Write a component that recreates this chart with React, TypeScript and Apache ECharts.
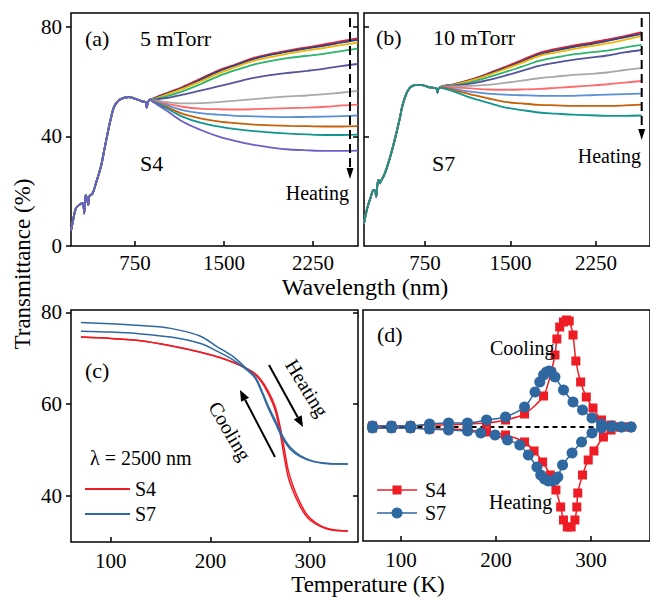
import React, { useEffect, useRef } from "react";
import * as echarts from "echarts";

const FONT = "Liberation Serif, Times New Roman, serif";

// ---------- (a) S4, 5 mTorr : transmittance spectra ----------
// short-wavelength part, common to all temperatures
const shortNmA = [212, 230, 253, 281, 309, 318, 323, 328, 337, 345, 352, 357, 362, 370, 394, 422, 464, 492, 520, 548, 576, 618, 660, 700, 759, 815, 840, 850, 858, 877];
const shortTA = [5.5, 9.5, 13.7, 15.0, 15.6, 14.5, 11.9, 15.5, 18.6, 17.5, 16.0, 15.0, 17.5, 18.3, 19.2, 22.9, 29.0, 35.0, 41.1, 46.6, 50.9, 53.3, 54.1, 54.3, 53.6, 52.7, 52.4, 50.5, 52.3, 53.4];
const longNmA = [900, 1000, 1150, 1300, 1450, 1600, 1750, 1900, 2050, 2200, 2350, 2500, 2625];
const specA1 = [53.8, 55.5, 58.0, 61.0, 64.0, 66.3, 68.6, 70.2, 71.4, 72.5, 73.6, 74.8, 75.7];
const specA2 = [53.7, 55.3, 57.7, 60.6, 63.6, 66.0, 68.2, 69.8, 71.0, 72.1, 73.1, 74.3, 75.2];
const specA3 = [53.6, 55.0, 57.3, 60.0, 62.9, 65.3, 67.5, 69.0, 70.3, 71.4, 72.3, 73.4, 74.2];
const specA4 = [53.5, 54.4, 56.4, 59.0, 61.9, 64.2, 66.2, 67.5, 68.6, 69.4, 70.2, 71.2, 72.0];
const specA5 = [53.4, 53.9, 55.2, 56.7, 58.2, 59.8, 61.3, 62.4, 63.2, 63.9, 64.7, 65.7, 66.4];
const specA6 = [53.2, 52.6, 52.0, 52.1, 52.5, 53.0, 53.6, 54.1, 54.6, 54.9, 55.4, 56.0, 56.6];
const specA7 = [53.0, 52.0, 50.8, 50.1, 49.9, 49.8, 49.9, 50.1, 50.3, 50.5, 50.8, 51.3, 51.6];
const specA8 = [52.9, 51.6, 49.6, 48.5, 47.9, 47.5, 47.3, 47.1, 47.0, 47.1, 47.2, 47.4, 47.6];
const specA9 = [52.8, 51.0, 48.3, 46.6, 45.5, 44.8, 44.3, 44.0, 43.8, 43.7, 43.6, 43.6, 43.7];
const specA10 = [52.7, 50.6, 47.2, 45.0, 43.6, 42.6, 41.9, 41.4, 41.0, 40.7, 40.5, 40.5, 40.6];
const specA11 = [52.6, 49.9, 45.4, 42.4, 40.0, 38.3, 36.9, 35.9, 35.2, 34.9, 34.7, 34.7, 34.8];
const specA = [specA1, specA2, specA3, specA4, specA5, specA6, specA7, specA8, specA9, specA10, specA11];

// ---------- (b) S7, 10 mTorr ----------
const shortNmB = [216, 244, 272, 301, 315, 323, 331, 343, 350, 357, 364, 371, 400, 442, 485, 527, 555, 597, 640, 710, 781, 837, 852, 860, 868, 880];
const shortTB = [8.3, 13.8, 17.4, 20.5, 20.0, 18.0, 21.5, 24.1, 23.5, 22.9, 23.8, 24.1, 26.6, 32.0, 38.7, 46.0, 51.5, 56.4, 58.4, 58.8, 58.0, 57.6, 57.4, 56.0, 57.3, 57.8];
const longNmB = [900, 1000, 1150, 1300, 1450, 1600, 1750, 1900, 2050, 2200, 2350, 2500, 2650];
const specB1 = [58.3, 59.0, 60.7, 62.9, 65.3, 67.8, 70.4, 71.9, 73.1, 74.1, 75.3, 76.6, 78.0];
const specB2 = [58.3, 58.9, 60.5, 62.6, 64.9, 67.3, 69.9, 71.4, 72.6, 73.6, 74.8, 76.1, 77.4];
const specB3 = [58.2, 58.8, 60.3, 62.3, 64.5, 66.8, 69.3, 70.6, 71.8, 72.9, 73.9, 75.2, 76.6];
const specB4 = [58.2, 58.6, 59.7, 61.5, 63.4, 65.4, 67.5, 68.8, 69.9, 70.6, 71.3, 72.4, 73.4];
const specB5 = [58.1, 58.5, 59.2, 60.5, 62.1, 63.9, 65.7, 66.9, 67.9, 68.7, 69.5, 70.6, 71.5];
const specB6 = [58.1, 58.2, 58.4, 58.8, 59.5, 60.3, 61.2, 61.8, 62.4, 62.8, 63.3, 64.2, 64.9];
const specB7 = [58.0, 57.8, 57.5, 57.1, 57.0, 57.1, 57.3, 57.7, 58.1, 58.5, 59.0, 59.6, 60.2];
const specB8 = [57.9, 57.3, 56.3, 55.6, 55.2, 55.0, 54.8, 54.8, 54.8, 55.0, 55.2, 55.4, 55.6];
const specB9 = [57.8, 56.9, 55.3, 53.9, 52.6, 52.0, 51.5, 51.3, 51.1, 51.1, 51.1, 51.3, 51.6];
const specB10 = [57.6, 56.4, 54.1, 52.3, 50.6, 49.6, 48.7, 48.3, 47.9, 47.7, 47.5, 47.5, 47.6];
const specB = [specB1, specB2, specB3, specB4, specB5, specB6, specB7, specB8, specB9, specB10];

const spectrumColors = ["#e8202a", "#27468f", "#f5b400", "#2db36b", "#54549c", "#a9a9a9", "#ff6b6b", "#5a8fd6", "#c8600a", "#13958f", "#6b5fc8"];

// ---------- (c) transmittance at 2500 nm vs temperature ----------
const tempS4 = [70, 100, 130, 160, 190, 210, 225, 235, 242, 250, 258, 265, 270, 274, 278, 283, 290, 297, 305, 315, 325, 338];
const s4Heat = [74.6, 74.3, 73.8, 72.7, 71.3, 70.1, 68.9, 67.9, 67.0, 65.2, 62.3, 58.6, 53.6, 48.5, 44.1, 41.0, 37.7, 35.4, 34.0, 33.0, 32.5, 32.4];
const s4Cool = [74.6, 74.3, 73.8, 72.7, 71.3, 70.1, 68.9, 67.9, 67.1, 65.5, 62.8, 59.4, 55.0, 50.3, 45.6, 42.1, 38.5, 35.9, 34.3, 33.1, 32.6, 32.4];
const tempS7 = [70, 100, 130, 160, 190, 206, 223, 236, 245, 251, 258, 265, 272, 280, 290, 303, 320, 338];
const s7Upper = [77.8, 77.5, 77.1, 76.5, 74.8, 72.6, 70.3, 67.8, 65.9, 63.2, 59.6, 56.5, 53.2, 50.6, 48.8, 47.6, 47.1, 47.0];
const s7Lower = [75.9, 75.7, 75.3, 74.6, 73.2, 71.6, 69.6, 67.5, 65.6, 62.8, 59.1, 55.9, 52.7, 50.2, 48.6, 47.5, 47.0, 47.0];

// ---------- (d) derivative dT/dTemp (arb. units) ----------
const dS4CoolT = [70, 90, 110, 130, 150, 170, 190, 210, 230, 250, 258, 262, 264, 267, 271, 274, 277, 281, 284, 289, 295, 302, 311, 321, 331, 341];
const dS4CoolV = [0.01, 0.01, 0.01, 0.02, 0.02, 0.03, 0.04, 0.07, 0.13, 0.31, 0.55, 0.72, 0.88, 1.0, 1.05, 1.07, 1.06, 0.92, 0.66, 0.45, 0.3, 0.19, 0.07, 0.02, 0.0, 0.0];
const dS4HeatT = [70, 90, 110, 130, 150, 170, 190, 210, 230, 240, 249, 257, 263, 268, 271, 275, 279, 283, 285, 286, 291, 297, 303, 313, 321, 331, 341];
const dS4HeatV = [-0.01, -0.01, -0.01, -0.02, -0.02, -0.03, -0.05, -0.08, -0.15, -0.24, -0.35, -0.48, -0.63, -0.8, -0.93, -1.0, -1.0, -0.93, -0.8, -0.66, -0.48, -0.33, -0.24, -0.1, -0.03, 0.0, 0.0];
const dS7CoolT = [70, 90, 110, 130, 150, 170, 190, 210, 230, 241, 246, 250, 253, 256, 258, 262, 271, 281, 291, 301, 311, 322, 332, 342];
const dS7CoolV = [0.01, 0.01, 0.01, 0.03, 0.04, 0.04, 0.07, 0.1, 0.2, 0.35, 0.45, 0.52, 0.55, 0.56, 0.55, 0.5, 0.37, 0.25, 0.17, 0.09, 0.03, 0.01, 0.0, 0.0];
const dS7HeatT = [70, 90, 110, 130, 150, 170, 184, 199, 212, 225, 234, 243, 247, 251, 255, 259, 262, 265, 270, 280, 290, 301, 311, 322, 332, 342];
const dS7HeatV = [-0.01, -0.01, -0.01, -0.02, -0.03, -0.04, -0.06, -0.08, -0.13, -0.18, -0.28, -0.4, -0.48, -0.52, -0.54, -0.54, -0.53, -0.5, -0.38, -0.26, -0.15, -0.06, -0.01, 0.0, 0.0, 0.0];
const baselineT = [70, 320];

const zip = (xs: number[], ys: number[]) => xs.map((x, i) => [x, ys[i]]);

const txt = (text: string, x: number, y: number, size: number, align = "left", rotation = 0) => ({
  type: "text",
  x,
  y,
  rotation,
  z: 100,
  style: {
    text,
    fill: "#000",
    fontSize: size,
    fontFamily: FONT,
    textAlign: align,
    align,
    textVerticalAlign: "middle",
    verticalAlign: "middle",
  },
});

// straight arrow with a filled head at (x2, y2)
const arrow = (x1: number, y1: number, x2: number, y2: number, dashed = false, head = 11, half = 4.5) => {
  const dx = x2 - x1;
  const dy = y2 - y1;
  const len = Math.hypot(dx, dy);
  const ux = dx / len;
  const uy = dy / len;
  const bx = x2 - head * ux;
  const by = y2 - head * uy;
  const px = -uy * half;
  const py = ux * half;
  return [
    {
      type: "line",
      z: 100,
      shape: { x1, y1, x2: bx, y2: by },
      style: { stroke: "#000", lineWidth: 2, lineDash: dashed ? [9, 5] : null },
    },
    {
      type: "polygon",
      z: 100,
      shape: { points: [[x2, y2], [bx + px, by + py], [bx - px, by - py]] },
      style: { fill: "#000" },
    },
  ];
};

const tickLabel = { fontSize: 21, fontFamily: FONT, color: "#000", formatter: (v: number) => String(v) };
const tickLine = { color: "#000", width: 1.5 };
const gridBox = { show: true, borderColor: "#000", borderWidth: 1.5, backgroundColor: "transparent" };

const buildOption = () => {
  const series: any[] = [];

  specA.forEach((vals, i) => {
    series.push({
      type: "line",
      name: `a${i}`,
      xAxisIndex: 0,
      yAxisIndex: 0,
      symbol: "none",
      lineStyle: { width: 1.8, color: spectrumColors[i] },
      itemStyle: { color: spectrumColors[i] },
      smooth: 0.35,
      data: zip([...shortNmA, ...longNmA], [...shortTA, ...vals]),
    });
  });
  specB.forEach((vals, i) => {
    series.push({
      type: "line",
      name: `b${i}`,
      xAxisIndex: 1,
      yAxisIndex: 1,
      symbol: "none",
      lineStyle: { width: 1.8, color: spectrumColors[i] },
      itemStyle: { color: spectrumColors[i] },
      smooth: 0.35,
      data: zip([...shortNmB, ...longNmB], [...shortTB, ...vals]),
    });
  });

  const red = "#ee1c25";
  const blue = "#2f67a0";
  [s4Heat, s4Cool].forEach((v, i) =>
    series.push({
      type: "line", name: `S4c${i}`, xAxisIndex: 2, yAxisIndex: 2, symbol: "none", smooth: 0.3,
      lineStyle: { width: 1.5, color: red }, data: zip(tempS4, v),
    })
  );
  [s7Upper, s7Lower].forEach((v, i) =>
    series.push({
      type: "line", name: `S7c${i}`, xAxisIndex: 2, yAxisIndex: 2, symbol: "none", smooth: 0.3,
      lineStyle: { width: 1.5, color: blue }, data: zip(tempS7, v),
    })
  );

  [[dS4CoolT, dS4CoolV], [dS4HeatT, dS4HeatV]].forEach(([t, v], i) =>
    series.push({
      type: "line", name: `S4d${i}`, xAxisIndex: 3, yAxisIndex: 3, symbol: "rect", symbolSize: 9,
      smooth: 0.25, lineStyle: { width: 1.5, color: red }, itemStyle: { color: red }, data: zip(t, v),
    })
  );
  series.push({
    type: "line", name: "base", xAxisIndex: 3, yAxisIndex: 3, symbol: "none",
    lineStyle: { width: 2, color: "#000", type: [5, 4] }, data: zip(baselineT, [0, 0]),
  });
  [[dS7CoolT, dS7CoolV], [dS7HeatT, dS7HeatV]].forEach(([t, v], i) =>
    series.push({
      type: "line", name: `S7d${i}`, xAxisIndex: 3, yAxisIndex: 3, symbol: "circle", symbolSize: 11,
      smooth: 0.25, lineStyle: { width: 1.5, color: blue }, itemStyle: { color: blue }, data: zip(t, v),
    })
  );

  const xAx = (gridIndex: number, min: number, max: number, ticks: number[], margin: number) => ({
    type: "value", gridIndex, min, max,
    axisLine: { show: false, onZero: false },
    splitLine: { show: false },
    axisTick: { show: true, inside: true, length: 5, lineStyle: tickLine, customValues: ticks },
    axisLabel: { ...tickLabel, margin, customValues: ticks },
  });
  const yAx = (gridIndex: number, min: number, max: number, ticks: number[], labels: boolean, inside: boolean) => ({
    type: "value", gridIndex, min, max,
    axisLine: { show: false, onZero: false },
    splitLine: { show: false },
    axisTick: { show: ticks.length > 0, inside, length: 5, lineStyle: tickLine, customValues: ticks },
    axisLabel: { show: labels, ...tickLabel, margin: 9, customValues: ticks },
  });

  const graphics: any[] = [
    txt("Transmittance (%)", 22, 264, 23, "center", Math.PI / 2),
    txt("Wavelength (nm)", 365, 287, 24, "center"),
    txt("Temperature (K)", 368, 584, 23, "center"),
    txt("(a)", 85, 38, 22),
    txt("5 mTorr", 140, 38, 22),
    txt("S4", 140, 163, 22),
    txt("Heating", 349, 193, 20, "right"),
    txt("(b)", 376, 37, 22),
    txt("10 mTorr", 433, 37, 22),
    txt("S7", 432, 163, 22),
    txt("Heating", 641, 156, 20, "right"),
    txt("(c)", 85, 370, 22),
    txt("\u03bb = 2500 nm", 90, 458, 20),
    txt("S4", 135, 489, 20),
    txt("S7", 135, 514, 20),
    txt("Heating", 307, 388, 20, "center", -1.018),
    txt("Cooling", 230, 431, 20, "center", -1.04),
    txt("(d)", 377, 334, 22),
    txt("Cooling", 490, 348, 20),
    txt("Heating", 489, 502, 20),
    txt("S4", 425, 490, 20),
    txt("S7", 425, 513, 20),
    ...arrow(350, 18, 350, 179, true, 11, 3.5),
    ...arrow(641.7, 18, 641.7, 140, true, 11, 3.5),
    ...arrow(269, 365, 303, 427),
    ...arrow(275, 457, 240, 390),
    { type: "line", z: 100, shape: { x1: 85, y1: 489, x2: 130, y2: 489 }, style: { stroke: "#ee1c25", lineWidth: 2 } },
    { type: "line", z: 100, shape: { x1: 85, y1: 514, x2: 130, y2: 514 }, style: { stroke: "#2f67a0", lineWidth: 2 } },
    { type: "line", z: 100, shape: { x1: 377, y1: 490, x2: 417, y2: 490 }, style: { stroke: "#ee1c25", lineWidth: 1.5 } },
    { type: "rect", z: 100, shape: { x: 392.5, y: 485.5, width: 9, height: 9 }, style: { fill: "#ee1c25" } },
    { type: "line", z: 100, shape: { x1: 377, y1: 513, x2: 417, y2: 513 }, style: { stroke: "#2f67a0", lineWidth: 1.5 } },
    { type: "circle", z: 100, shape: { cx: 397, cy: 513, r: 5.5 }, style: { fill: "#2f67a0" } },
  ];

  return {
    animation: false,
    backgroundColor: "#fff",
    textStyle: { fontFamily: FONT },
    grid: [
      { left: 71, top: 13, width: 287, height: 233, ...gridBox },
      { left: 364, top: 13, width: 296, height: 233, ...gridBox },
      { left: 71, top: 310, width: 287, height: 232, ...gridBox },
      { left: 363, top: 310, width: 301, height: 231, ...gridBox },
    ],
    xAxis: [
      xAx(0, 212, 2628, [750, 1500, 2250], 6),
      xAx(1, 216, 2724, [750, 1500, 2250], 6),
      xAx(2, 60, 348, [100, 200, 300], 8),
      xAx(3, 60, 362, [100, 200, 300], 8),
    ],
    yAxis: [
      yAx(0, 0, 85, [0, 40, 80], true, false),
      yAx(1, 0, 85, [40, 80], false, true),
      yAx(2, 30, 80.5, [40, 60, 80], true, false),
      yAx(3, -1.14, 1.17, [], false, true),
      yAx(0, 0, 85, [40, 80], false, true),
      yAx(2, 30, 80.5, [40, 60, 80], false, true),
    ],
    series,
    graphic: { elements: graphics },
  };
};

export default function App() {
  const ref = useRef<HTMLDivElement>(null);
  useEffect(() => {
    if (!ref.current) return;
    const chart = echarts.init(ref.current, undefined, { renderer: "svg" });
    chart.setOption(buildOption() as any);
    return () => chart.dispose();
  }, []);
  return <div ref={ref} style={{ width: 650, height: 597, position: "absolute", left: 0, top: 0 }} />;
}
